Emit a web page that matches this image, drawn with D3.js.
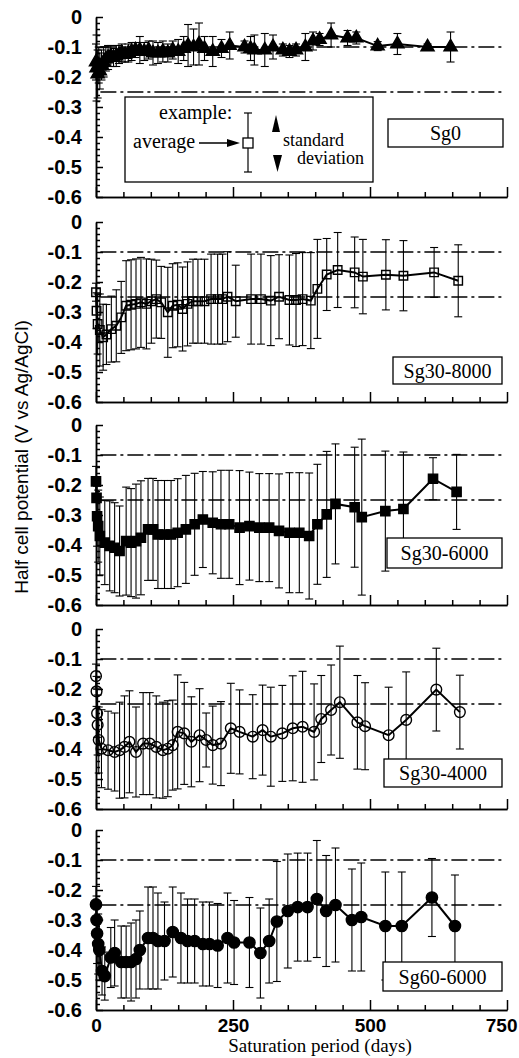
<!DOCTYPE html>
<html>
    <head>
        <script src="https://d3js.org/d3.v7.js"></script>
        <style>
            body{
                margin: 0;
                background: white;
            }
            .tick text{
                font-family: 'Liberation Sans', Arial, sans-serif;
                font-weight: bold;
            }
        </style>
    </head>
    <body>
        <div class = 'graph'>
            <script>
                // days, mean potential (V) and standard deviation for each specimen
                const sg0Days = [0, 1, 3, 5, 7, 10, 14, 18, 22, 27, 32, 37, 42, 47, 53, 59, 65, 72, 80, 88, 96, 104, 113, 122, 131, 140, 150, 160, 168, 178, 188, 198, 213, 229, 244, 271, 282, 289, 308, 323, 341, 353, 365, 382, 396, 408, 429, 459, 475, 514, 550, 605, 647]
                const sg0Mean = [-0.15, -0.17, -0.19, -0.16, -0.18, -0.16, -0.15, -0.14, -0.135, -0.13, -0.135, -0.13, -0.125, -0.12, -0.125, -0.12, -0.115, -0.11, -0.11, -0.115, -0.11, -0.12, -0.12, -0.115, -0.12, -0.11, -0.115, -0.105, -0.095, -0.1, -0.09, -0.105, -0.115, -0.105, -0.095, -0.1, -0.105, -0.11, -0.11, -0.1, -0.11, -0.115, -0.11, -0.1, -0.08, -0.075, -0.06, -0.07, -0.07, -0.097, -0.09, -0.1, -0.1]
                const sg0Sd = [0.06, 0.11, 0.08, 0.06, 0.06, 0.05, 0.05, 0.04, 0.04, 0.035, 0.03, 0.035, 0.03, 0.03, 0.025, 0.03, 0.03, 0.025, 0.045, 0.03, 0.03, 0.04, 0.035, 0.035, 0.03, 0.03, 0.04, 0.04, 0.07, 0.06, 0.07, 0.04, 0.05, 0.03, 0.045, 0.02, 0.04, 0.05, 0.055, 0.04, 0.02, 0.02, 0.02, 0.045, 0.03, 0.02, 0.04, 0.025, 0.02, 0.015, 0.035, 0.01, 0.05]

                const sg308000Days = [0, 1, 3, 7, 13, 19, 28, 37, 46, 55, 64, 73, 82, 92, 101, 110, 119, 131, 140, 149, 158, 167, 177, 186, 198, 210, 222, 231, 240, 255, 283, 301, 319, 334, 353, 365, 377, 392, 404, 421, 441, 472, 487, 529, 561, 617, 661]
                const sg308000Mean = [-0.234, -0.296, -0.34, -0.36, -0.384, -0.375, -0.357, -0.346, -0.318, -0.279, -0.276, -0.273, -0.268, -0.273, -0.264, -0.257, -0.268, -0.301, -0.279, -0.276, -0.29, -0.273, -0.264, -0.264, -0.264, -0.257, -0.257, -0.257, -0.249, -0.264, -0.257, -0.257, -0.262, -0.249, -0.26, -0.26, -0.257, -0.262, -0.223, -0.175, -0.16, -0.168, -0.182, -0.176, -0.179, -0.168, -0.196]
                const sg308000Sd = [0.03, 0.06, 0.1, 0.12, 0.11, 0.1, 0.11, 0.12, 0.12, 0.15, 0.15, 0.15, 0.15, 0.15, 0.14, 0.13, 0.12, 0.15, 0.14, 0.14, 0.14, 0.14, 0.14, 0.14, 0.14, 0.15, 0.15, 0.15, 0.15, 0.12, 0.15, 0.15, 0.15, 0.14, 0.15, 0.155, 0.155, 0.16, 0.165, 0.12, 0.125, 0.118, 0.124, 0.117, 0.117, 0.083, 0.12]

                const sg306000Days = [0, 1, 2, 4, 7, 16, 25, 34, 43, 55, 64, 73, 82, 95, 104, 113, 125, 137, 149, 164, 180, 195, 213, 228, 243, 262, 280, 298, 316, 334, 353, 371, 389, 404, 421, 437, 472, 485, 528, 561, 615, 658]
                const sg306000Mean = [-0.188, -0.243, -0.304, -0.337, -0.37, -0.392, -0.403, -0.409, -0.42, -0.387, -0.392, -0.387, -0.376, -0.348, -0.348, -0.365, -0.365, -0.365, -0.359, -0.348, -0.331, -0.315, -0.326, -0.331, -0.331, -0.342, -0.337, -0.342, -0.342, -0.353, -0.359, -0.359, -0.37, -0.331, -0.298, -0.263, -0.274, -0.307, -0.287, -0.28, -0.179, -0.223]
                const sg306000Sd = [0.05, 0.06, 0.1, 0.12, 0.13, 0.14, 0.15, 0.15, 0.15, 0.18, 0.18, 0.19, 0.19, 0.17, 0.17, 0.18, 0.18, 0.18, 0.18, 0.18, 0.17, 0.16, 0.17, 0.18, 0.18, 0.19, 0.18, 0.18, 0.18, 0.19, 0.2, 0.2, 0.21, 0.2, 0.21, 0.2, 0.2, 0.26, 0.2, 0.19, 0.07, 0.125]

                const sg304000Days = [0, 1, 2, 3, 5, 10, 22, 34, 43, 52, 61, 73, 86, 98, 110, 122, 131, 140, 149, 161, 174, 189, 201, 213, 228, 246, 262, 286, 304, 319, 340, 359, 377, 398, 411, 429, 445, 477, 491, 534, 566, 621, 664]
                const sg304000Mean = [-0.157, -0.208, -0.281, -0.32, -0.37, -0.399, -0.404, -0.41, -0.404, -0.393, -0.376, -0.41, -0.382, -0.382, -0.393, -0.404, -0.399, -0.387, -0.343, -0.348, -0.376, -0.354, -0.37, -0.387, -0.382, -0.331, -0.343, -0.359, -0.337, -0.359, -0.348, -0.331, -0.326, -0.343, -0.3, -0.27, -0.244, -0.311, -0.324, -0.354, -0.303, -0.202, -0.277]
                const sg304000Sd = [0.04, 0.05, 0.08, 0.1, 0.11, 0.13, 0.13, 0.13, 0.16, 0.17, 0.17, 0.15, 0.17, 0.17, 0.17, 0.16, 0.16, 0.15, 0.19, 0.17, 0.15, 0.155, 0.09, 0.13, 0.14, 0.15, 0.14, 0.14, 0.15, 0.165, 0.16, 0.175, 0.185, 0.16, 0.145, 0.15, 0.187, 0.156, 0.145, 0.16, 0.16, 0.138, 0.123]

                const sg606000Days = [0, 1, 2, 4, 6, 11, 16, 27, 34, 46, 55, 64, 73, 80, 95, 104, 113, 125, 140, 155, 167, 180, 195, 207, 222, 240, 252, 280, 300, 316, 330, 350, 368, 386, 403, 420, 437, 467, 484, 528, 558, 613, 655]
                const sg606000Mean = [-0.248, -0.3, -0.345, -0.38, -0.4, -0.47, -0.487, -0.425, -0.41, -0.44, -0.44, -0.44, -0.43, -0.4, -0.36, -0.36, -0.37, -0.37, -0.34, -0.36, -0.37, -0.37, -0.38, -0.38, -0.385, -0.36, -0.375, -0.375, -0.41, -0.37, -0.305, -0.27, -0.257, -0.257, -0.23, -0.27, -0.25, -0.3, -0.29, -0.32, -0.32, -0.225, -0.32]
                const sg606000Sd = [0.06, 0.08, 0.1, 0.1, 0.1, 0.08, 0.08, 0.1, 0.11, 0.12, 0.12, 0.13, 0.13, 0.13, 0.17, 0.17, 0.16, 0.13, 0.15, 0.15, 0.14, 0.14, 0.14, 0.14, 0.14, 0.15, 0.14, 0.15, 0.15, 0.14, 0.2, 0.19, 0.18, 0.18, 0.195, 0.185, 0.19, 0.17, 0.18, 0.18, 0.18, 0.13, 0.17]

                const panelNames = ['Sg0', 'Sg30-8000', 'Sg30-6000', 'Sg30-4000', 'Sg60-6000']
                const yTicks = [0, -0.1, -0.2, -0.3, -0.4, -0.5, -0.6]
                const yTickLabels = ['0', '-0.1', '-0.2', '-0.3', '-0.4', '-0.5', '-0.6']
                const xTicks = [0, 250, 500, 750]
                const xTickLabels = ['0', '250', '500', '750']
                const refLevels = [-0.1, -0.25]

                const w = 519
                const h = 1058
                const left = 96
                const right = 507
                const panelTops = [17, 222, 425, 629, 830]
                const panelH = 180

                const panels = [
                    {days: sg0Days, mean: sg0Mean, sd: sg0Sd, symbol: d3.symbolTriangle, size: 75, fill: 'black',
                     box: {x: 388, y: 102, w: 115, h: 28}},
                    {days: sg308000Days, mean: sg308000Mean, sd: sg308000Sd, symbol: d3.symbolSquare, size: 72, fill: 'none',
                     box: {x: 393, y: 135, w: 109, h: 27}},
                    {days: sg306000Days, mean: sg306000Mean, sd: sg306000Sd, symbol: d3.symbolSquare, size: 85, fill: 'black',
                     box: {x: 387, y: 113, w: 115, h: 30}},
                    {days: sg304000Days, mean: sg304000Mean, sd: sg304000Sd, symbol: d3.symbolCircle, size: 90, fill: 'none',
                     box: {x: 384, y: 130, w: 118, h: 28}},
                    {days: sg606000Days, mean: sg606000Mean, sd: sg606000Sd, symbol: d3.symbolCircle, size: 100, fill: 'black',
                     box: {x: 383, y: 132, w: 119, h: 29}}
                ]

                const svg = d3.select('.graph')
                        .append('svg')
                        .attr('width', w)
                        .attr('height', h)
                        .style('display', 'block')

                svg.append('rect')
                    .attr('width', w)
                    .attr('height', h)
                    .attr('fill', 'white')

                const xScale = d3.scaleLinear()
                                 .domain([0, 750])
                                 .range([left, right])

                const yScale = d3.scaleLinear()
                                 .domain([0, -0.6])
                                 .range([0, panelH])

                const minorX = d3.range(0, 751, 50).filter(d => d % 250 !== 0)
                const minorY = d3.range(0, 31).map(i => -i * 0.02).filter((d, i) => i % 5 !== 0)

                panels.forEach((p, i) => {
                    const g = svg.append('g')
                                 .attr('transform', 'translate(0,' + panelTops[i] + ')')

                    const rows = p.days.map((d, j) => ({day: d, mean: p.mean[j], sd: p.sd[j]}))

                    // dash-dot reference levels
                    g.selectAll('.ref')
                        .data(refLevels)
                        .enter()
                        .append('line')
                        .attr('x1', xScale(8))
                        .attr('x2', right - 2)
                        .attr('y1', d => yScale(d))
                        .attr('y2', d => yScale(d))
                        .attr('stroke', 'black')
                        .attr('stroke-width', 1.3)
                        .attr('stroke-dasharray', '16,4,3,4')

                    const yAxis = d3.axisLeft(yScale)
                                    .tickValues(yTicks)
                                    .tickFormat((d, k) => yTickLabels[k])
                                    .tickSize(-7)
                                    .tickSizeOuter(0)
                                    .tickPadding(14)
                    const yMinor = d3.axisLeft(yScale)
                                     .tickValues(minorY)
                                     .tickFormat('')
                                     .tickSize(-4)
                                     .tickSizeOuter(0)

                    const xAxis = d3.axisBottom(xScale)
                                    .tickValues(xTicks)
                                    .tickFormat((d, k) => i === panels.length - 1 ? xTickLabels[k] : '')
                                    .tickSize(-10)
                                    .tickSizeOuter(0)
                                    .tickPadding(9)
                    const xMinor = d3.axisBottom(xScale)
                                     .tickValues(minorX)
                                     .tickFormat('')
                                     .tickSize(-5)
                                     .tickSizeOuter(0)

                    g.append('g')
                        .attr('transform', 'translate(' + left + ',0)')
                        .call(yAxis)
                        .call(a => a.selectAll('text').style('font-size', '20px').attr('fill', 'black'))
                    g.append('g')
                        .attr('transform', 'translate(' + left + ',0)')
                        .call(yMinor)
                    g.append('g')
                        .attr('transform', 'translate(0,' + panelH + ')')
                        .call(xAxis)
                        .call(a => a.selectAll('text')
                                    .style('font-size', '19px')
                                    .attr('fill', 'black')
                                    .filter(d => d === 750)
                                    .attr('text-anchor', 'end')
                                    .attr('x', 10))
                    g.append('g')
                        .attr('transform', 'translate(0,' + panelH + ')')
                        .call(xMinor)

                    g.selectAll('.domain, .tick line')
                        .attr('stroke', 'black')
                        .attr('stroke-width', 1.5)

                    // error bars
                    const bars = g.selectAll('.bar')
                                  .data(rows)
                                  .enter()
                                  .append('g')
                    bars.append('line')
                        .attr('x1', d => xScale(d.day))
                        .attr('x2', d => xScale(d.day))
                        .attr('y1', d => yScale(d.mean + d.sd))
                        .attr('y2', d => yScale(d.mean - d.sd))
                    bars.append('line')
                        .attr('x1', d => xScale(d.day) - 4)
                        .attr('x2', d => xScale(d.day) + 4)
                        .attr('y1', d => yScale(d.mean + d.sd))
                        .attr('y2', d => yScale(d.mean + d.sd))
                    bars.append('line')
                        .attr('x1', d => xScale(d.day) - 4)
                        .attr('x2', d => xScale(d.day) + 4)
                        .attr('y1', d => yScale(d.mean - d.sd))
                        .attr('y2', d => yScale(d.mean - d.sd))
                    bars.selectAll('line')
                        .attr('stroke', 'black')
                        .attr('stroke-width', 1.1)

                    const line = d3.line()
                                   .x(d => xScale(d.day))
                                   .y(d => yScale(d.mean))

                    g.append('path')
                        .datum(rows)
                        .attr('d', line)
                        .attr('fill', 'none')
                        .attr('stroke', 'black')
                        .attr('stroke-width', 2)

                    g.selectAll('.mark')
                        .data(rows)
                        .enter()
                        .append('path')
                        .attr('transform', d => 'translate(' + xScale(d.day) + ',' + yScale(d.mean) + ')')
                        .attr('d', d3.symbol().type(p.symbol).size(p.size))
                        .attr('fill', p.fill)
                        .attr('stroke', 'black')
                        .attr('stroke-width', 1.4)

                    g.append('rect')
                        .attr('x', p.box.x)
                        .attr('y', p.box.y)
                        .attr('width', p.box.w)
                        .attr('height', p.box.h)
                        .attr('fill', 'white')
                        .attr('stroke', 'black')
                        .attr('stroke-width', 1.3)
                    g.append('text')
                        .attr('x', p.box.x + p.box.w / 2)
                        .attr('y', p.box.y + p.box.h / 2 + 7)
                        .attr('text-anchor', 'middle')
                        .style('font-family', "'Liberation Serif', 'Times New Roman', serif")
                        .style('font-size', '20px')
                        .text(panelNames[i])
                })

                // explanation box in the first panel
                const ex = svg.append('g')
                ex.append('rect')
                    .attr('x', 125)
                    .attr('y', 97)
                    .attr('width', 248)
                    .attr('height', 85)
                    .attr('fill', 'white')
                    .attr('stroke', 'black')
                    .attr('stroke-width', 1.3)
                const serif = "'Liberation Serif', 'Times New Roman', serif"
                ex.append('text').attr('x', 159).attr('y', 119).text('example:').style('font-size', '20px')
                ex.append('text').attr('x', 133).attr('y', 148).text('average').style('font-size', '20px')
                ex.append('text').attr('x', 283).attr('y', 146).text('standard').style('font-size', '18px')
                ex.append('text').attr('x', 297).attr('y', 164).text('deviation').style('font-size', '18px')
                ex.selectAll('text')
                    .style('font-family', serif)
                ex.append('line')
                    .attr('x1', 199).attr('x2', 230)
                    .attr('y1', 143).attr('y2', 143)
                    .attr('stroke', 'black')
                    .attr('stroke-width', 1.5)
                ex.append('path')
                    .attr('d', 'M227,139L240,143L227,147Z')
                ex.append('line')
                    .attr('x1', 248).attr('x2', 248)
                    .attr('y1', 113).attr('y2', 172)
                ex.append('line')
                    .attr('x1', 244).attr('x2', 252)
                    .attr('y1', 113).attr('y2', 113)
                ex.append('line')
                    .attr('x1', 244).attr('x2', 252)
                    .attr('y1', 172).attr('y2', 172)
                ex.selectAll('line')
                    .filter((d, k) => k > 0)
                    .attr('stroke', 'black')
                    .attr('stroke-width', 1.2)
                ex.append('rect')
                    .attr('x', 243)
                    .attr('y', 138)
                    .attr('width', 10)
                    .attr('height', 10)
                    .attr('fill', 'white')
                    .attr('stroke', 'black')
                    .attr('stroke-width', 1.3)
                ex.append('path')
                    .attr('d', 'M272,132L280,132L276,115Z')
                ex.append('path')
                    .attr('d', 'M273,155L282,155L277.5,172Z')

                svg.append('text')
                    .attr('transform', 'translate(28,457) rotate(-90)')
                    .attr('text-anchor', 'middle')
                    .style('font-family', "'Liberation Sans', Arial, sans-serif")
                    .style('font-size', '19px')
                    .text('Half cell potential (V vs Ag/AgCl)')

                svg.append('text')
                    .attr('x', 320)
                    .attr('y', 1052)
                    .attr('text-anchor', 'middle')
                    .style('font-family', serif)
                    .style('font-size', '19px')
                    .text('Saturation period (days)')
            </script>
        </div>
    </body>
</html>
